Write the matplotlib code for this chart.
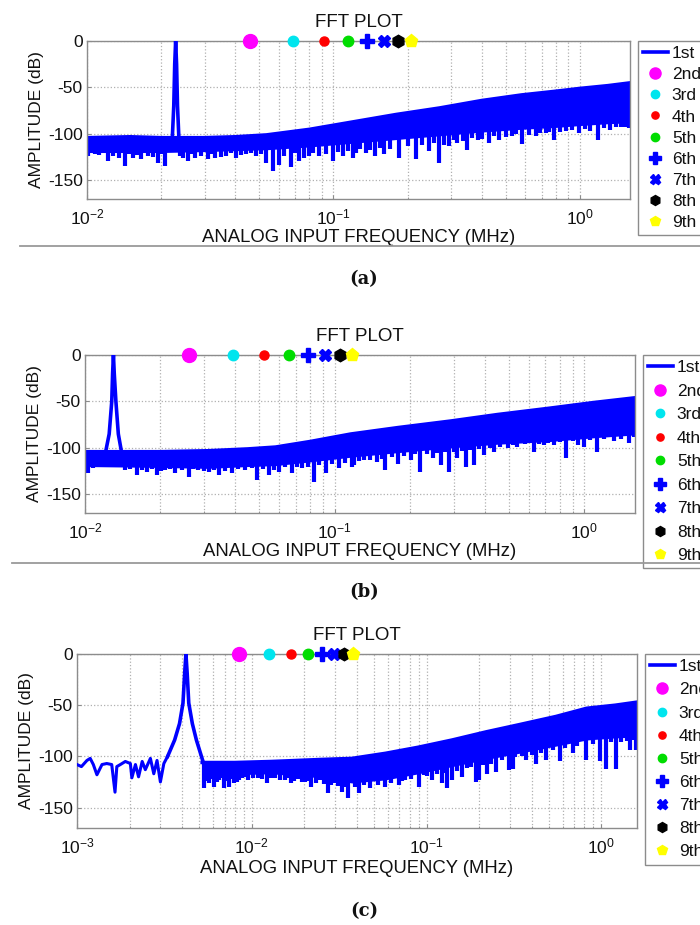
import numpy as np
import matplotlib
matplotlib.use("Agg")
import matplotlib.pyplot as plt
from matplotlib.lines import Line2D
from matplotlib.ticker import LogLocator, NullFormatter

plt.rcParams['font.family'] = ['Liberation Sans', 'DejaVu Sans']
plt.rcParams['mathtext.fontset'] = 'custom'
plt.rcParams['mathtext.rm'] = 'Liberation Sans'
plt.rcParams['mathtext.it'] = 'Liberation Sans:italic'
plt.rcParams['mathtext.bf'] = 'Liberation Sans:bold'
plt.rcParams['mathtext.default'] = 'regular'
plt.rcParams['axes.unicode_minus'] = False

# ---------------- data ----------------
legend_labels = ['1st', '2nd', '3rd', '4th', '5th', '6th', '7th', '8th', '9th']
y_ticks = [0, -50, -100, -150]
title_text = 'FFT PLOT'
x_label = 'ANALOG INPUT FREQUENCY (MHz)'
y_label = 'AMPLITUDE (dB)'
captions = ['a', 'b', 'c']

# panel (a)
a_xlim = (0.01, 1.6)
a_harm_f = [0.0458, 0.0687, 0.0916, 0.1145, 0.1374, 0.1603, 0.1832, 0.2061]
a_harm_db = [0, 0, 0, 0, 0, 0, 0, 0]
a_env_f = [0.01, 0.015, 0.02, 0.03, 0.04, 0.0535, 0.08, 0.12, 0.18, 0.27, 0.4, 0.58, 0.8, 1.0, 1.3, 1.6]
a_env_top = [-104, -103, -104, -104, -103, -101, -95, -87, -79, -72, -64, -58, -54, -51, -48, -45]
a_env_bot = [-120, -120, -120, -119, -118, -117, -114, -110, -106, -102, -98, -95, -93, -91, -89, -88]
a_spike_f = [0.0101, 0.0108, 0.0122, 0.0128, 0.0143, 0.0154, 0.0166, 0.0177, 0.0194, 0.0207,
             0.0238, 0.0257, 0.0274, 0.031, 0.033, 0.0368, 0.0404, 0.0443, 0.0486, 0.0534,
             0.0567, 0.0604, 0.0673, 0.0728, 0.0799, 0.0877, 0.0993, 0.109, 0.123,
             0.120, 0.136, 0.147, 0.161, 0.185, 0.216, 0.245, 0.269, 0.295, 0.319, 0.35,
             0.385, 0.429, 0.47, 0.532, 0.584, 0.662, 0.727, 0.786, 0.876, 0.991, 1.19, 1.40, 1.53,
             0.0112, 0.0135, 0.0148, 0.016, 0.0185, 0.0200, 0.0245, 0.0265, 0.029, 0.032,
             0.035, 0.0385, 0.042, 0.0465, 0.051, 0.063, 0.07, 0.076, 0.083, 0.093,
             0.104, 0.115, 0.128, 0.141, 0.154, 0.17, 0.2, 0.23, 0.257, 0.28,
             0.31, 0.335, 0.365, 0.4, 0.45, 0.5, 0.55, 0.62, 0.69, 0.75,
             0.83, 0.93, 1.05, 1.1, 1.26, 1.33, 1.47, 1.58]
a_spike_db = [-124, -122, -129, -124, -135, -126, -127, -124, -131, -135,
              -124, -129, -126, -127, -126, -124, -126, -122, -124, -131,
              -140, -133, -136, -129, -124, -124, -129, -124, -120,
              -126, -120, -124, -122, -126, -127, -118, -131, -113, -110, -117,
              -106, -110, -106, -102, -111, -102, -99, -106, -97, -99, -106, -92, -92,
              -123, -126, -122, -123, -125, -122, -126, -122, -124, -122,
              -125, -121, -123, -121, -122, -124, -121, -126, -120, -122,
              -119, -118, -116, -117, -115, -116, -113, -112, -110, -112,
              -106, -108, -104, -105, -102, -103, -100, -101, -99, -98,
              -98, -96, -95, -97, -94, -96, -93, -94]
a_peak_f = [0.0222, 0.0225, 0.0227, 0.0229, 0.0231, 0.0233, 0.0236]
a_peak_db = [-104, -70, -25, 0, -25, -70, -104]

# panel (b)
b_xlim = (0.01, 1.6)
b_harm_f = [0.0262, 0.0393, 0.0524, 0.0655, 0.0786, 0.0917, 0.1048, 0.1179]
b_harm_db = [0, 0, 0, 0, 0, 0, 0, 0]
b_env_f = [0.01, 0.02, 0.031, 0.045, 0.058, 0.08, 0.116, 0.18, 0.292, 0.45, 0.737, 1.1, 1.6]
b_env_top = [-104, -104, -103, -101, -99, -93, -85, -78, -71, -64, -57, -51, -46]
b_env_bot = [-120, -121, -122, -120, -119, -115, -110, -105, -100, -96, -93, -89, -86]
b_spike_f = [0.0103, 0.0108, 0.0145, 0.0161, 0.0177, 0.0194, 0.021, 0.023, 0.026, 0.0285,
             0.0313, 0.0343, 0.0388, 0.0439, 0.0489, 0.0545, 0.0597, 0.0675, 0.0741, 0.0826,
             0.0921, 0.104, 0.118,
             0.1196, 0.131, 0.148, 0.160, 0.179, 0.202, 0.221, 0.247, 0.267, 0.288, 0.311,
             0.336, 0.363, 0.398, 0.436, 0.494, 0.541, 0.631, 0.693, 0.76, 0.847, 0.944,
             1.0, 1.13, 1.32, 1.52,
             0.0152, 0.0169, 0.0185, 0.0202, 0.022, 0.0245, 0.0272, 0.03, 0.0328, 0.0365,
             0.041, 0.0465, 0.0515, 0.057, 0.0635, 0.071, 0.078, 0.087, 0.098, 0.11,
             0.125, 0.139, 0.155, 0.17, 0.19, 0.21, 0.235, 0.257, 0.278, 0.3,
             0.325, 0.35, 0.38, 0.42, 0.46, 0.52, 0.58, 0.66, 0.72, 0.8,
             0.9, 1.06, 1.2, 1.4, 1.58]
b_spike_db = [-127, -122, -124, -129, -126, -129, -124, -127, -131, -124,
              -126, -129, -127, -124, -135, -129, -126, -127, -122, -137,
              -127, -122, -120,
              -118, -113, -115, -124, -117, -113, -126, -111, -118, -126, -111,
              -120, -118, -108, -104, -100, -99, -104, -97, -97, -111, -97,
              -99, -104, -93, -95,
              -123, -124, -123, -125, -123, -124, -123, -125, -124, -125,
              -123, -122, -123, -124, -121, -120, -121, -118, -117, -116,
              -114, -113, -112, -110, -109, -107, -106, -105, -104, -104,
              -103, -102, -101, -100, -99, -97, -96, -96, -95, -94,
              -93, -91, -90, -90, -88]
b_peak_f = [0.0121, 0.0125, 0.0128, 0.0129, 0.0130, 0.0131, 0.0133, 0.0136, 0.0140]
b_peak_db = [-104, -85, -50, -20, 0, -20, -50, -85, -104]

# panel (c)
c_xlim = (0.001, 1.6)
c_harm_f = [0.0084, 0.0126, 0.0168, 0.021, 0.0252, 0.0294, 0.0336, 0.0378]
c_harm_db = [0, 0, 0, 0, 0, 0, 0, 0]
c_env_f = [0.0052, 0.008, 0.0129, 0.018, 0.025, 0.0373, 0.0582, 0.09, 0.14, 0.22, 0.339, 0.55, 0.824, 1.2, 1.6]
c_env_top = [-106, -106, -105, -104, -103, -102, -97, -91, -84, -76, -69, -61, -53, -50, -47]
c_env_bot = [-118, -118, -117, -119, -121, -126, -123, -117, -110, -103, -97, -90, -84, -82, -81]
c_spike_f = [0.00534, 0.0057, 0.0061, 0.00652, 0.00696, 0.00744, 0.00795, 0.00849, 0.00907, 0.0108,
             0.0123, 0.0129, 0.0154, 0.0168, 0.0201, 0.0219, 0.0245, 0.0274, 0.0298, 0.0327, 0.0357,
             0.0408, 0.0476, 0.058, 0.0693, 0.0757, 0.0903, 0.0965, 0.108, 0.123, 0.131, 0.140,
             0.160, 0.191, 0.200, 0.223, 0.250, 0.298, 0.311, 0.371, 0.424, 0.484, 0.578, 0.689,
             0.822, 0.981, 1.07, 1.22, 1.46, 1.58,
             0.0055, 0.0059, 0.0063, 0.0068, 0.0072, 0.0077, 0.0082, 0.0088, 0.0095, 0.0101,
             0.0115, 0.0136, 0.0145, 0.016, 0.0175, 0.0185, 0.0193, 0.021, 0.0232, 0.0258,
             0.0285, 0.031, 0.034, 0.039, 0.044, 0.0525, 0.063, 0.072, 0.082, 0.1,
             0.115, 0.127, 0.15, 0.17, 0.18, 0.21, 0.235, 0.27, 0.32, 0.35,
             0.4, 0.45, 0.53, 0.62, 0.73, 0.9, 1.13, 1.3, 1.4, 1.52]
c_spike_db = [-131, -126, -130, -123, -131, -130, -126, -123, -120, -121,
              -126, -121, -123, -126, -125, -130, -123, -136, -126, -135, -141,
              -136, -131, -130, -128, -123, -130, -118, -123, -126, -131, -123,
              -120, -125, -123, -117, -115, -113, -112, -104, -107, -104, -105, -97,
              -104, -105, -112, -112, -94, -94,
              -124, -122, -125, -121, -124, -122, -125, -121, -123, -121,
              -122, -121, -123, -121, -124, -122, -125, -124, -126, -127,
              -128, -129, -130, -130, -128, -128, -126, -124, -122, -119,
              -117, -116, -114, -111, -110, -108, -107, -104, -101, -100,
              -99, -97, -94, -92, -90, -88, -86, -86, -85, -84]
c_left_f = [0.001, 0.00106, 0.00114, 0.00119, 0.00124, 0.0013, 0.00139, 0.00148, 0.00158, 0.00165,
            0.00169, 0.00177, 0.00189, 0.00202, 0.00206, 0.00216, 0.00225, 0.00236, 0.00246, 0.00263,
            0.00275, 0.00287, 0.003, 0.00314, 0.0033]
c_left_db = [-108, -110, -104, -102, -108, -118, -108, -107, -108, -135,
             -110, -108, -105, -107, -121, -108, -120, -105, -113, -102,
             -117, -104, -125, -107, -100]
c_peak_f = [0.0033, 0.00362, 0.00386, 0.00404, 0.00413, 0.0042, 0.00427, 0.00436, 0.00457, 0.00482, 0.00526]
c_peak_db = [-100, -84, -68, -48, -19, 0, -19, -48, -68, -84, -105]

# ---------------- styles ----------------
BLUE = '#0000ff'
harm_styles = [
    dict(marker='o', color='#ff00ff', ms=10),
    dict(marker='o', color='#00e5ee', ms=7.5),
    dict(marker='o', color='#ff0000', ms=6.5),
    dict(marker='o', color='#00dd00', ms=7.5),
    dict(marker='P', color=BLUE, ms=10),
    dict(marker='X', color=BLUE, ms=9),
    dict(marker='h', color='#000000', ms=9),
    dict(marker='p', color='#ffff00', ms=9.5),
]
FS = 12.5
GRAYGRID = '#b0b0b0'

fig = plt.figure(figsize=(7, 9.25), dpi=100)


def panel(rect, xlim, harm_f, harm_db, env_f, env_top, env_bot, spike_f, spike_db,
          peak_f, peak_db, left_f=None, left_db=None, labelspacing=0.35, xlabelpad=0):
    ax = fig.add_axes(rect)
    ax.set_xscale('log')
    ax.set_xlim(*xlim)
    ax.set_ylim(-170, 0)
    # noise band
    ax.fill_between(env_f, env_top, env_bot, color=BLUE, lw=0, zorder=2)
    ax.plot(env_f, env_top, color=BLUE, lw=2.5, zorder=2)
    lf = np.log10(env_f)
    sf = np.asarray(spike_f)
    tops = np.interp(np.log10(sf), lf, env_top)
    ax.vlines(sf, spike_db, tops, color=BLUE, lw=3.0, zorder=2)
    if left_f is not None:
        ax.plot(left_f, left_db, color=BLUE, lw=2.2, zorder=3)
    line1, = ax.plot(peak_f, peak_db, color=BLUE, lw=2.6, zorder=3, label=legend_labels[0])
    handles = [line1]
    for i, st in enumerate(harm_styles):
        h, = ax.plot([harm_f[i]], [harm_db[i]], linestyle='none', marker=st['marker'],
                     color=st['color'], markeredgecolor=st['color'], ms=st['ms'],
                     clip_on=False, zorder=5, label=legend_labels[i + 1])
        handles.append(h)
    # axes style
    ax.set_yticks(y_ticks)
    ax.xaxis.set_major_locator(LogLocator(base=10, numticks=10))
    ax.xaxis.set_minor_locator(LogLocator(base=10, subs=np.arange(2, 10), numticks=20))
    ax.xaxis.set_minor_formatter(NullFormatter())
    ax.grid(True, which='major', axis='both', linestyle=':', color=GRAYGRID, lw=0.9)
    ax.grid(True, which='minor', axis='x', linestyle=':', color=GRAYGRID, lw=0.9)
    ax.set_axisbelow(True)
    for s in ax.spines.values():
        s.set_color('#8c8c8c')
        s.set_linewidth(1.0)
    ax.tick_params(which='both', direction='in', colors='#8c8c8c', labelcolor='#111111',
                   labelsize=FS, length=3)
    ax.tick_params(which='minor', length=1.5)
    ax.tick_params(axis='x', pad=6)
    ax.tick_params(axis='y', pad=3)
    ax.set_title(title_text, fontsize=13.5, pad=10, color='#111111')
    ax.set_xlabel(x_label, fontsize=13.3, labelpad=xlabelpad, color='#111111')
    ax.set_ylabel(y_label, fontsize=FS, labelpad=3, color='#111111')
    # legend
    ax_w_px = rect[2] * 700
    anchor_x = (ax_w_px + 8) / ax_w_px
    leg = ax.legend(handles=handles, loc='upper left', bbox_to_anchor=(anchor_x, 1.0),
                    borderaxespad=0, fontsize=FS, frameon=True, fancybox=False,
                    edgecolor='#8c8c8c', framealpha=1, labelspacing=labelspacing,
                    handlelength=1.4, handletextpad=0.25, borderpad=0.3,
                    markerscale=0.8)
    leg.get_frame().set_linewidth(1.0)
    for t in leg.get_texts():
        t.set_color('#111111')
    return ax


def rect_from_px(left, right, top, bottom):
    return [left / 700, 1 - bottom / 925, (right - left) / 700, (bottom - top) / 925]


panel(rect_from_px(87, 630, 41, 199), a_xlim, a_harm_f, a_harm_db, a_env_f, a_env_top, a_env_bot,
      a_spike_f, a_spike_db, a_peak_f, a_peak_db, labelspacing=0.34, xlabelpad=1)
panel(rect_from_px(85, 635, 355, 513), b_xlim, b_harm_f, b_harm_db, b_env_f, b_env_top, b_env_bot,
      b_spike_f, b_spike_db, b_peak_f, b_peak_db, labelspacing=0.48, xlabelpad=1)
panel(rect_from_px(77, 637, 654, 828), c_xlim, c_harm_f, c_harm_db, c_env_f, c_env_top, c_env_bot,
      c_spike_f, c_spike_db, c_peak_f, c_peak_db, c_left_f, c_left_db, labelspacing=0.46, xlabelpad=3)

# separators
fig.add_artist(Line2D([20 / 700, 1], [1 - 246 / 925] * 2, color='#9a9a9a', lw=1.3))
fig.add_artist(Line2D([12 / 700, 1], [1 - 563 / 925] * 2, color='#9a9a9a', lw=1.3))

# captions
for cap, ypx in zip(captions, [279, 592, 911]):
    fig.text(364 / 700, 1 - ypx / 925, '(' + cap + ')', ha='center', va='center',
             fontsize=13, family=['DejaVu Serif'], weight='bold', color='#111111')

fig.savefig('out.png', dpi=100)
